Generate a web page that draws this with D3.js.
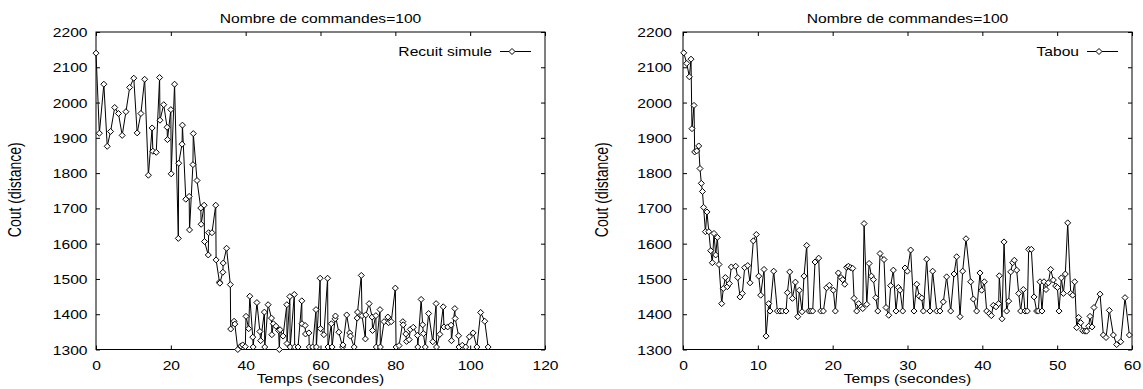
<!DOCTYPE html>
<html>
<head>
<meta charset="utf-8">
<script src="https://cdn.jsdelivr.net/npm/d3@7"></script>
<style>
  html, body { margin: 0; padding: 0; background: #fff; }
  svg { display: block; }
</style>
</head>
<body>
<div id="chart"></div>
<script>
// ---- data ----
const chartTitle = "Nombre de commandes=100";
const xLabel = "Temps (secondes)";
const yLabel = "Cout (distance)";
const yTicks = [1300, 1400, 1500, 1600, 1700, 1800, 1900, 2000, 2100, 2200];
const recuitXTicks = [0, 20, 40, 60, 80, 100, 120];
const tabouXTicks = [0, 10, 20, 30, 40, 50, 60];

// Recuit simule : temps (s) / cout
const recuitTemps = [
  0, 0.9, 2.1, 3, 3.9, 5, 6, 7, 8, 9, 10.1, 11, 12, 13, 14, 15, 15.2, 16.1, 17, 17.1,
  18.1, 19, 19.1, 20, 20.1, 21, 22, 22.1, 23, 23.1, 24, 24.9, 25, 25.9, 26, 27, 28, 28.1, 28.9, 29,
  30, 30.1, 31, 32, 32.1, 33, 33.1, 33.9, 34, 34.9, 35.9, 36, 36.9, 37.1, 37.9,
  38.7, 39.2, 39.9, 40.1, 40.8, 41.1, 41.9, 42, 43, 43.8, 44, 45, 45.1, 46, 46.9, 47, 47.4, 48.1, 48.8, 49,
  49.2, 50, 51, 51.05, 51.8, 51.9, 53, 53.1, 54, 55, 55.05, 55.9, 56, 56.9, 57, 57.9, 58.8, 58.9, 59.9, 60,
  60.9, 61.9, 62, 62.9, 63.1, 63.9, 64, 64.9, 65.9, 66, 67, 67.8, 68, 69, 69.8, 69.9, 70.9, 71.1, 72, 72.1,
  73, 73.8, 73.9, 74.8, 74.9, 75.9, 76, 77, 78, 78.2, 78.9, 80, 80.2, 81, 82, 82.1, 82.8, 83, 83.7, 84,
  84.8, 85.9, 86, 86.9, 87.3, 87.5, 88, 88.9, 90, 90.9, 91, 91.9, 92.8, 93, 94, 94.9, 95, 95.9, 96, 96.9,
  97, 97.9, 98.8, 99.8, 100.8, 101.8, 102.8, 103.9, 104.8
];
const recuitCout = [
  2140, 1913, 2052, 1876, 1918, 1986, 1969, 1907, 1974, 2043, 2069, 1914, 1969, 2066, 1794, 1928, 1862, 1859, 2071, 1950,
  1994, 1930, 1895, 1980, 1798, 2052, 1615, 1828, 1882, 1936, 1726, 1734, 1639, 1824, 1912, 1779, 1701, 1655, 1709, 1606,
  1568, 1631, 1631, 1709, 1554, 1491, 1488, 1519, 1545, 1587, 1484, 1358, 1380, 1372, 1300,
  1310, 1313, 1308, 1394, 1359, 1451, 1335, 1307, 1433, 1351, 1325, 1406, 1307, 1427, 1389, 1342, 1373, 1366, 1354, 1300,
  1356, 1338, 1427, 1317, 1450, 1307, 1456, 1307, 1307, 1438, 1373, 1368, 1344, 1347, 1307, 1307, 1413, 1307, 1502, 1359,
  1342, 1502, 1307, 1373, 1307, 1387, 1395, 1349, 1307, 1313, 1398, 1347, 1338, 1307, 1389, 1406, 1510, 1396, 1330, 1398,
  1430, 1392, 1354, 1396, 1307, 1413, 1307, 1379, 1392, 1376, 1379, 1474, 1307, 1311, 1379, 1370, 1344, 1323, 1328, 1357,
  1363, 1340, 1307, 1442, 1370, 1345, 1307, 1402, 1322, 1430, 1307, 1343, 1421, 1364, 1364, 1369, 1325, 1416, 1388, 1339,
  1307, 1312, 1307, 1336, 1347, 1307, 1405, 1380, 1307
];

// Tabou : temps (s) / cout
const tabouTemps = [
  0.1, 0.5, 0.85, 1.07, 1.2, 1.47, 1.56, 1.83, 2.1, 2.27, 2.45, 2.6, 2.75, 3.0, 3.2, 3.45, 3.7, 3.92, 4.14, 4.37,
  4.59, 4.81, 5.17, 5.39, 5.66, 5.92, 6.19, 6.46, 7.04, 7.31, 7.62, 7.93, 8.24, 8.65, 8.96, 9.4, 9.8, 10.12, 10.38, 10.83,
  11.1, 11.45, 11.63, 12.12, 12.61, 12.96, 13.28, 13.77, 13.95, 14.26, 14.62, 15.02, 15.33, 15.55, 15.91, 16.17, 16.53, 16.8, 17.06, 17.33,
  17.64, 18.13, 18.4, 18.76, 19.2, 19.56, 20.09, 20.36, 20.76, 21.12, 21.34, 21.61, 21.87, 22.1, 22.41, 22.68, 22.86, 23.21, 23.48, 23.8,
  24.02, 24.2, 24.56, 24.87, 25.18, 25.45, 25.76, 26.03, 26.33, 26.86, 27.13, 27.49, 27.75, 28.11, 28.46, 28.78, 29.0, 29.36, 29.67, 29.98,
  30.42, 30.87, 31.23, 31.58, 31.9, 32.12, 32.56, 33.01, 33.36, 33.9, 34.34, 34.79, 35.23, 35.77, 36.22, 36.57, 37.02, 37.37, 37.82, 38.44,
  38.8, 39.24, 39.69, 39.91, 40.27, 40.58, 40.94, 41.2, 41.47, 41.83, 42.18, 42.27, 42.63, 42.9, 43.25, 43.52, 43.79, 44.06, 44.28, 44.59,
  44.86, 45.12, 45.48, 45.7, 46.01, 46.19, 46.55, 46.91, 47.26, 47.49, 47.71, 47.97, 48.24, 48.51, 48.82, 49.13, 49.49, 49.8, 50.03, 50.25,
  50.56, 50.83, 51.09, 51.41, 51.81, 52.07, 52.34, 52.61, 52.87, 53.14, 53.41, 53.72, 53.94, 54.21, 54.39, 54.66, 54.92, 55.73, 56.17, 56.53,
  56.97, 57.51, 57.95, 58.49, 59.07, 59.65
];
const tabouCout = [
  2141, 2111, 2073, 2123, 1926, 1992, 1860, 1863, 1877, 1813, 1771, 1748, 1703, 1634, 1690, 1634, 1580, 1546, 1629, 1568,
  1618, 1541, 1430, 1473, 1504, 1478, 1487, 1534, 1536, 1504, 1449, 1459, 1532, 1538, 1489, 1608, 1626, 1508, 1454, 1527,
  1338, 1430, 1409, 1522, 1409, 1409, 1409, 1409, 1461, 1520, 1445, 1491, 1393, 1468, 1407, 1508, 1595, 1409, 1409, 1409,
  1548, 1559, 1409, 1409, 1475, 1482, 1468, 1409, 1517, 1504, 1498, 1485, 1533, 1536, 1532, 1530, 1445, 1409, 1430, 1421,
  1416, 1657, 1428, 1544, 1508, 1498, 1447, 1409, 1572, 1555, 1419, 1397, 1481, 1525, 1409, 1476, 1468, 1409, 1531, 1522,
  1582, 1409, 1485, 1451, 1446, 1409, 1556, 1409, 1522, 1409, 1409, 1435, 1506, 1409, 1514, 1563, 1393, 1522, 1614, 1492,
  1443, 1409, 1517, 1468, 1492, 1409, 1402, 1396, 1425, 1421, 1430, 1509, 1387, 1605, 1409, 1437, 1520, 1546, 1553, 1525,
  1459, 1409, 1470, 1409, 1409, 1584, 1584, 1449, 1409, 1409, 1492, 1409, 1492, 1470, 1489, 1527, 1497, 1480, 1476, 1409,
  1503, 1459, 1514, 1659, 1459, 1454, 1492, 1362, 1391, 1376, 1353, 1352, 1352, 1366, 1394, 1364, 1419, 1457, 1341, 1334,
  1411, 1341, 1314, 1322, 1447, 1341
];

// ---- drawing ----
const W = 1143, H = 389;
const FONT = "'Liberation Sans', Arial, Helvetica, sans-serif";
const FS = 12.5;      // font size
const SX = 1.25;      // the reference text is stretched horizontally
const TICK = 4;

const svg = d3.select("#chart").append("svg")
  .attr("width", W)
  .attr("height", H)
  .attr("viewBox", [0, 0, W, H])
  .attr("font-family", FONT)
  .attr("font-size", FS);

function stretchedText(g, x, y, str, anchor) {
  return g.append("text")
    .attr("transform", `translate(${x},${y}) scale(${SX},1)`)
    .attr("text-anchor", anchor || "middle")
    .attr("fill", "#000")
    .text(str);
}

function drawPanel(cfg) {
  const { l, r, t, b } = cfg;
  const x = d3.scaleLinear().domain(cfg.xDomain).range([l, r]);
  const y = d3.scaleLinear().domain([1300, 2200]).range([b, t]);
  const g = svg.append("g");

  // inward ticks on all four sides
  const axB = d3.axisBottom(x).tickValues(cfg.xTicks).tickSizeInner(-TICK).tickSizeOuter(0).tickFormat(d3.format("d"));
  const axT = d3.axisTop(x).tickValues(cfg.xTicks).tickSizeInner(-TICK).tickSizeOuter(0).tickFormat("");
  const axL = d3.axisLeft(y).tickValues(yTicks).tickSizeInner(-TICK).tickSizeOuter(0).tickFormat(d3.format("d"));
  const axR = d3.axisRight(y).tickValues(yTicks).tickSizeInner(-TICK).tickSizeOuter(0).tickFormat("");

  const gb = g.append("g").attr("transform", `translate(0,${b})`).call(axB);
  g.append("g").attr("transform", `translate(0,${t})`).call(axT);
  const gl = g.append("g").attr("transform", `translate(${l},0)`).call(axL);
  g.append("g").attr("transform", `translate(${r},0)`).call(axR);

  g.selectAll(".domain").remove();
  g.selectAll(".tick line").attr("stroke", "#000").attr("stroke-width", 1);
  g.selectAll(".tick text").attr("font-family", FONT).attr("font-size", FS).attr("fill", "#000");

  gb.selectAll(".tick text")
    .attr("y", null).attr("dy", null)
    .attr("transform", `translate(0,20.5) scale(${SX},1)`);
  gl.selectAll(".tick text")
    .attr("x", null).attr("dy", null)
    .attr("transform", `translate(${-cfg.yPad},4.5) scale(${SX},1)`);

  // frame
  g.append("rect")
    .attr("x", l).attr("y", t)
    .attr("width", r - l).attr("height", b - t)
    .attr("fill", "none").attr("stroke", "#000").attr("stroke-width", 1);

  // titles
  stretchedText(g, (l + r) / 2, 22.5, chartTitle);
  stretchedText(g, (l + r) / 2, 382.5, xLabel);
  g.append("text")
    .attr("transform", `translate(${l - 75},${(t + b) / 2 - 1}) scale(1.3,1) rotate(-90)`)
    .attr("text-anchor", "middle")
    .attr("font-size", 14)
    .attr("fill", "#000")
    .text(yLabel);

  // series
  const pts = cfg.xs.map((d, i) => [d, cfg.ys[i]]);
  const line = d3.line().x(d => x(d[0])).y(d => y(d[1]));
  g.append("path")
    .attr("d", line(pts))
    .attr("fill", "none")
    .attr("stroke", "#000")
    .attr("stroke-width", 1);

  const diamond = "M0,-3L3,0L0,3L-3,0Z";
  g.append("g").selectAll("path")
    .data(pts)
    .join("path")
    .attr("d", diamond)
    .attr("transform", d => `translate(${x(d[0])},${y(d[1])})`)
    .attr("fill", "#fff")
    .attr("stroke", "#000")
    .attr("stroke-width", 1);

  // legend
  const ly = 51.5;
  stretchedText(g, r - 53, ly + 4, cfg.name, "end");
  g.append("line")
    .attr("x1", r - 45).attr("x2", r - 14)
    .attr("y1", ly).attr("y2", ly)
    .attr("stroke", "#000").attr("stroke-width", 1);
  g.append("path")
    .attr("d", diamond)
    .attr("transform", `translate(${r - 33},${ly})`)
    .attr("fill", "#fff").attr("stroke", "#000").attr("stroke-width", 1);
}

drawPanel({
  name: "Recuit simule",
  l: 96, r: 545, t: 32, b: 349.5,
  xDomain: [0, 120], xTicks: recuitXTicks,
  xs: recuitTemps, ys: recuitCout, yPad: 8.5
});

drawPanel({
  name: "Tabou",
  l: 683, r: 1132, t: 32, b: 349.5,
  xDomain: [0, 60], xTicks: tabouXTicks,
  xs: tabouTemps, ys: tabouCout, yPad: 11
});
</script>
</body>
</html>
